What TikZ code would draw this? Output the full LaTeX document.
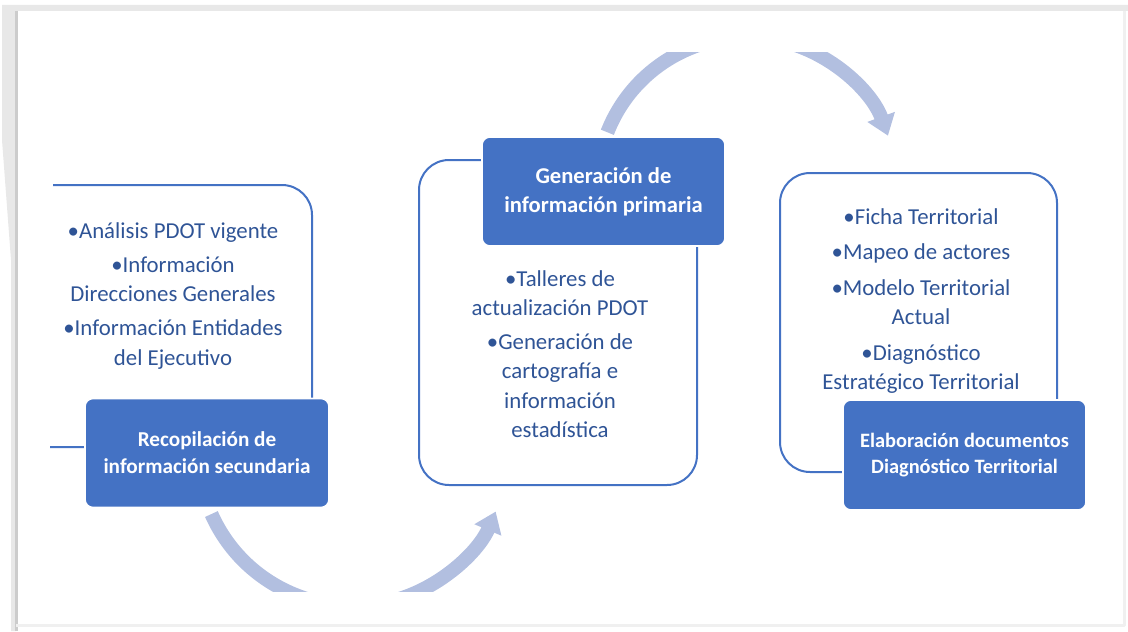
\documentclass[tikz,border=0pt]{standalone}
\usepackage{fontspec}
\setmainfont{Carlito}
\usetikzlibrary{arrows.meta}
\definecolor{azul}{HTML}{4472C4}
\definecolor{azulosc}{HTML}{2F5496}
\definecolor{celeste}{RGB}{178,191,224}
\begin{document}
\begin{tikzpicture}[x=0.5pt,y=-0.5pt,line join=round,font=\fontsize{11.4}{14.7}\selectfont]
\useasboundingbox (0,0) rectangle (1128,631);
\tikzset{caja/.style={draw=azul,line width=1pt,rounded corners=15pt},
	bloque/.style={fill=azul,draw=white,line width=0.8pt,rounded corners=4pt,text=white,align=center,minimum width=122pt,minimum height=54.5pt,inner sep=2pt},
	lista/.style={text=azulosc,align=center,inner sep=0pt},
	flecha/.style={draw=celeste,line width=7pt,-{Triangle[width=14pt,length=10pt]}}}
% marco
\fill[gray!18] (2,5) -- (1128,5) -- (1128,11) -- (16,11) -- (16,631) -- (11,631) -- (11,260) -- (2,140) -- cycle;
\draw[gray!40,line width=1.5pt] (16,11) -- (16,631);
\draw[gray!12,line width=1.5pt] (16,625) -- (1124,625) -- (1124,11);
% cajas blancas
\draw[caja] (53,185) -- (312,185) -- (312,447) -- (50,447);
\node[caja,minimum width=139pt,minimum height=162.5pt] (c2) at (558,322.5) {};
\node[caja,minimum width=138.5pt,minimum height=149.5pt] (c3) at (918.5,322.5) {};
% flechas del ciclo
\begin{scope}
	\clip (0,53) rectangle (1128,591);
	\foreach \cx/\cy/\a/\b/\r in {353/451/156/23/155, 747/187/-158.6/-20/150}
	{\draw[flecha] (\cx,\cy) ++(\a:\r) arc[start angle=\a,end angle=\b,radius=\r];}
\end{scope}
% bloques azules
\node[bloque,font=\fontsize{10.6}{13.5}\selectfont\bfseries] (rec) at (207,453) {Recopilación de\\información secundaria};
\node[bloque,font=\fontsize{11.3}{14.5}\selectfont\bfseries,minimum width=121.5pt] (gen) at (603.5,191.5) {Generación de\\información primaria};
\node[bloque,font=\fontsize{10.2}{13}\selectfont\bfseries,minimum width=121.5pt,minimum height=55pt] (ela) at (964.5,455) {Elaboración documentos\\Diagnóstico Territorial};
% textos
\node[lista] (t1) at (173,296) {•Análisis PDOT vigente\\[2.3pt]•Información\\Direcciones Generales\\[2.3pt]•Información Entidades\\del Ejecutivo};
\node[lista] (t2) at (560,354) {•Talleres de\\actualización PDOT\\[2.3pt]•Generación de\\cartografía e\\información\\estadística};
\node[lista] (t3) at (921,301) {•Ficha Territorial\\[3pt]•Mapeo de actores\\[3pt]•Modelo Territorial\\Actual\\[3pt]•Diagnóstico\\Estratégico Territorial};
\end{tikzpicture}
\end{document}
